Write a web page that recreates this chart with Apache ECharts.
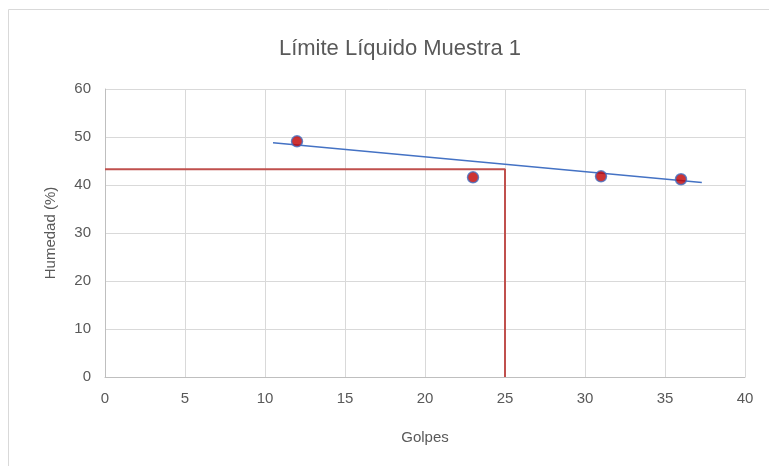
<!DOCTYPE html>
<html>
<head>
<meta charset="utf-8">
<script src="https://cdn.jsdelivr.net/npm/echarts@6/dist/echarts.min.js"></script>
<style>
  html, body { margin: 0; padding: 0; background: #fff; }
  #chart { width: 769px; height: 466px; }
</style>
</head>
<body>
<div id="chart"></div>
<script>
// puntos medidos
var golpes = [12, 23, 31, 36];
var humedad = [49.1, 41.6, 41.8, 41.2];
// linea de tendencia (extremos)
var trendX = [10.5, 37.3];
var trendY = [48.8, 40.5];
// limite liquido a 25 golpes
var llGolpes = 25;
var llHumedad = 43.3;

var xTicks = [0, 5, 10, 15, 20, 25, 30, 35, 40];
var yTicks = [0, 10, 20, 30, 40, 50, 60];

var font = 'Liberation Sans';
var gray = '#595959';

var myChart = echarts.init(document.getElementById('chart'));
var option = {
    animation: false,
    title: {
        text: 'Límite Líquido Muestra 1',
        left: 395,
        top: 33,
        textAlign: 'center',
        textStyle: { fontFamily: font, fontSize: 22, fontWeight: 'normal', color: gray }
    },
    graphic: [{
        type: 'polyline',
        shape: { points: [[8.5, 466], [8.5, 9.5], [769, 9.5]] },
        style: { stroke: '#d9d9d9', lineWidth: 1, fill: null }
    }],
    grid: { left: 105, right: 24, top: 89, bottom: 89 },
    xAxis: {
        type: 'value',
        min: xTicks[0],
        max: xTicks[xTicks.length - 1],
        interval: 5,
        name: 'Golpes',
        nameLocation: 'middle',
        nameGap: 53,
        nameTextStyle: { fontFamily: font, fontSize: 15, color: gray },
        axisLine: { lineStyle: { color: '#bfbfbf' } },
        axisTick: { show: false },
        axisLabel: { fontFamily: font, fontSize: 15, color: gray, margin: 14 },
        splitLine: { lineStyle: { color: '#d9d9d9' } }
    },
    yAxis: {
        type: 'value',
        min: yTicks[0],
        max: yTicks[yTicks.length - 1],
        interval: 10,
        name: 'Humedad (%)',
        nameLocation: 'middle',
        nameGap: 47,
        nameTextStyle: { fontFamily: font, fontSize: 15, color: gray },
        axisLine: { show: true, lineStyle: { color: '#bfbfbf' } },
        axisTick: { show: false },
        axisLabel: { fontFamily: font, fontSize: 15, color: gray, margin: 14 },
        splitLine: { lineStyle: { color: '#d9d9d9' } }
    },
    series: [
        {
            name: 'limite',
            type: 'line',
            data: [[0, llHumedad], [llGolpes, llHumedad], [llGolpes, 0]],
            symbol: 'none',
            lineStyle: { color: '#c0504d', width: 2 },
            z: 2
        },
        {
            name: 'tendencia',
            type: 'line',
            data: trendX.map(function (x, i) { return [x, trendY[i]]; }),
            symbol: 'none',
            lineStyle: { color: '#4472c4', width: 1.5 },
            z: 3
        },
        {
            name: 'humedad',
            type: 'scatter',
            data: golpes.map(function (x, i) { return [x, humedad[i]]; }),
            symbolSize: 11,
            itemStyle: { color: '#c00000', borderColor: '#4472c4', borderWidth: 1.5 },
            z: 4
        }
    ]
};
myChart.setOption(option);
</script>
</body>
</html>
